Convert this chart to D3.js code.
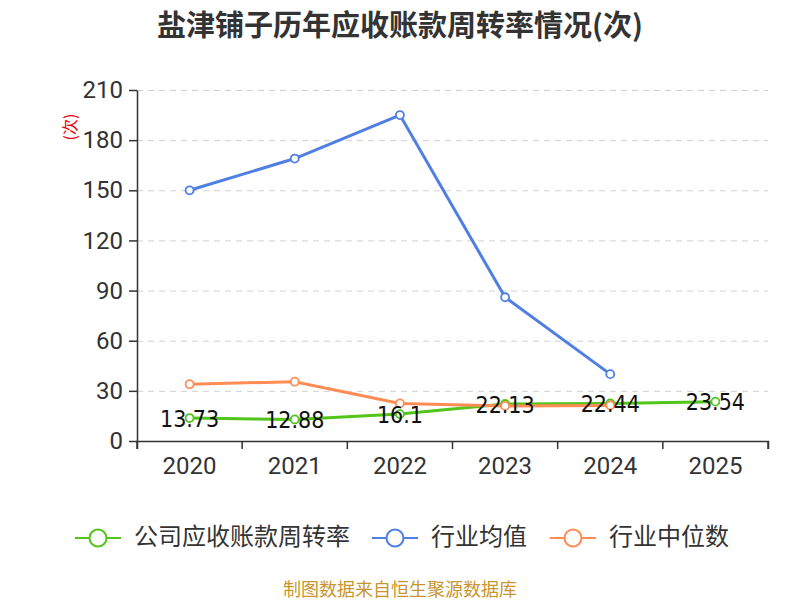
<!DOCTYPE html>
<html>
<head>
<meta charset="utf-8">
<script src="https://cdn.jsdelivr.net/npm/d3@7"></script>
<style>
  body { margin: 0; background: #fff; font-family: "Noto Sans CJK SC", "Noto Sans", sans-serif; }
  .grid line { stroke: #d0d0d0; stroke-dasharray: 6,5; }
  .grid .domain { display: none; }
  .axis text { font-family: Roboto, "Noto Sans", sans-serif; font-size: 24px; fill: #333; }
  .axis line, .axis path { stroke: #333; stroke-width: 1.5; }
</style>
</head>
<body>
<div id="chart"></div>
<script>
// 盐津铺子 receivable turnover (times)
const WIDTH = 800;
const HEIGHT = 600;

const years = ["2020", "2021", "2022", "2023", "2024", "2025"];
const company = [13.73, 12.88, 16.1, 22.13, 22.44, 23.54];
const industryMean = [150, 169, 195, 86, 40, null];
const industryMedian = [34, 35.5, 22.5, 21, 21.3, null];
const yTicks = [0, 30, 60, 90, 120, 150, 180, 210];

const margin = { top: 90, right: 32, bottom: 159, left: 137 };
const innerW = WIDTH - margin.left - margin.right;
const innerH = HEIGHT - margin.top - margin.bottom;

const series = [
  { name: "公司应收账款周转率", values: company, color: "#52c41a" },
  { name: "行业均值", values: industryMean, color: "#4f7fe3" },
  { name: "行业中位数", values: industryMedian, color: "#ff8c55" }
];

const svg = d3.select("#chart").append("svg")
  .attr("width", WIDTH)
  .attr("height", HEIGHT);

// Title
svg.append("text")
  .attr("x", WIDTH / 2)
  .attr("y", 36)
  .attr("text-anchor", "middle")
  .style("font-size", "29px")
  .style("font-weight", "bold")
  .style("fill", "#333")
  .text("盐津铺子历年应收账款周转率情况(次)");

const g = svg.append("g")
  .attr("transform", `translate(${margin.left},${margin.top})`);

const x = d3.scaleBand().domain(years).range([0, innerW]);
const y = d3.scaleLinear().domain([0, 210]).range([innerH, 0]);

// Grid
g.append("g")
  .attr("class", "grid")
  .call(d3.axisLeft(y).tickValues(yTicks.slice(1)).tickSize(-innerW).tickFormat(""))
  .call((s) => s.selectAll("line").attr("x1", 0).attr("x2", innerW));

// Axes
g.append("g")
  .attr("class", "axis")
  .attr("transform", `translate(0,${innerH})`)
  .call(d3.axisBottom(x).tickSize(8).tickSizeOuter(8).tickPadding(8))
  .call((s) => s.selectAll(".tick line").attr("x1", -x.bandwidth() / 2).attr("x2", -x.bandwidth() / 2))
  .call((s) => s.append("line")
    .attr("x1", innerW).attr("x2", innerW).attr("y1", 0).attr("y2", 8)
    .attr("stroke", "#333").attr("stroke-width", 1.5));

g.append("g")
  .attr("class", "axis")
  .call(d3.axisLeft(y).tickValues(yTicks).tickSize(8).tickSizeOuter(0).tickPadding(6));

// y unit label
svg.append("text")
  .attr("transform", "translate(76,127) rotate(-90)")
  .attr("text-anchor", "middle")
  .style("font-size", "16px")
  .style("fill", "#e8000b")
  .text("(次)");

const cx = (i) => x(years[i]) + x.bandwidth() / 2;

// Lines and markers
series.forEach((s) => {
  const pts = s.values.map((v, i) => ({ v, i })).filter((d) => d.v != null);
  g.append("path")
    .datum(pts)
    .attr("fill", "none")
    .attr("stroke", s.color)
    .attr("stroke-width", 3)
    .attr("d", d3.line().x((d) => cx(d.i)).y((d) => y(d.v)));
  g.append("g")
    .selectAll("circle")
    .data(pts)
    .join("circle")
    .attr("cx", (d) => cx(d.i))
    .attr("cy", (d) => y(d.v))
    .attr("r", 4)
    .attr("fill", "#fff")
    .attr("stroke", s.color)
    .attr("stroke-width", 1.8);
});

// Company value labels
g.append("g")
  .selectAll("text")
  .data(company)
  .join("text")
  .attr("x", (d, i) => cx(i))
  .attr("y", (d) => y(d) + 2)
  .attr("text-anchor", "middle")
  .attr("dominant-baseline", "middle")
  .style("font-family", "'DejaVu Sans Condensed', 'Roboto Condensed', Roboto, sans-serif")
  .style("font-size", "23px")
  .style("fill", "#111")
  .text((d) => d);

// Legend
const legendX = [75, 372, 550];
const legend = svg.append("g").attr("transform", "translate(0,538)");
series.forEach((s, i) => {
  const lg = legend.append("g").attr("transform", `translate(${legendX[i]},0)`);
  lg.append("line").attr("x1", 0).attr("x2", 46).attr("stroke", s.color).attr("stroke-width", 2);
  lg.append("circle").attr("cx", 23).attr("r", 8.5).attr("fill", "#fff")
    .attr("stroke", s.color).attr("stroke-width", 2);
  lg.append("text")
    .attr("x", 59)
    .attr("dominant-baseline", "middle")
    .style("font-size", "24px")
    .style("fill", "#333")
    .text(s.name);
});

// Source note
svg.append("text")
  .attr("x", WIDTH / 2)
  .attr("y", 596)
  .attr("text-anchor", "middle")
  .style("font-size", "18px")
  .style("fill", "#c9952f")
  .text("制图数据来自恒生聚源数据库");
</script>
</body>
</html>
